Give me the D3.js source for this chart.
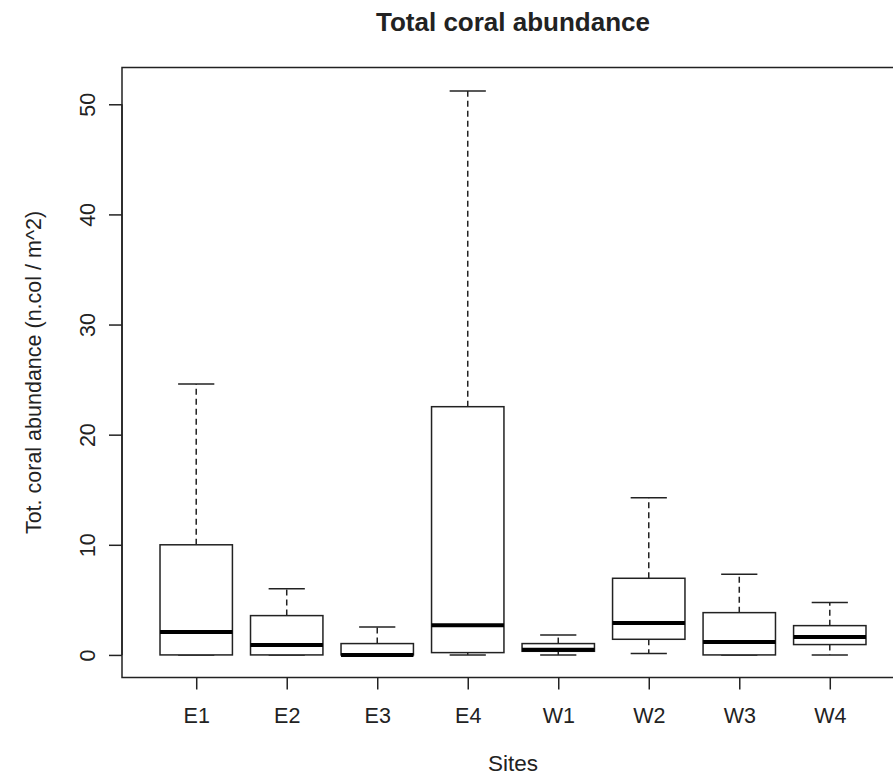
<!DOCTYPE html>
<html>
<head>
<meta charset="utf-8">
<script src="https://cdn.jsdelivr.net/npm/d3@7/dist/d3.min.js"></script>
<style>
  html, body { margin: 0; padding: 0; background: #fff; }
  svg text { font-family: Arial, "Liberation Sans", sans-serif; fill: #222; }
</style>
</head>
<body>
<svg id="chart" width="893" height="776"></svg>
<script>
// ---- data ----
const sites        = ["E1", "E2", "E3", "E4", "W1", "W2", "W3", "W4"];
const whiskerLow   = [0,    0,    0,    0,     0,    0.12, 0,    0];
const quartile1    = [0,    0,    0,    0.21,  0.33, 1.42, 0,    0.94];
const medians      = [2.09, 0.91, 0.0,  2.69,  0.48, 2.90, 1.18, 1.63];
const quartile3    = [10.0, 3.57, 1.03, 22.54, 1.03, 6.96, 3.84, 2.66];
const whiskerHigh  = [24.6, 6.02, 2.54, 51.2,  1.82, 14.28, 7.33, 4.75];
const yTicks       = [0, 10, 20, 30, 40, 50];
const titleText    = "Total coral abundance";
const xTitle       = "Sites";
const yTitle       = "Tot. coral abundance (n.col / m^2)";

const boxes = sites.map((s, i) => ({
  site: s, idx: i + 1,
  lo: whiskerLow[i], q1: quartile1[i], med: medians[i], q3: quartile3[i], hi: whiskerHigh[i]
}));

const svg = d3.select("#chart");
const plot = { left: 122, right: 904, top: 67.5, bottom: 677.5 };
const fontSize = 21.5;

const x = d3.scaleLinear().domain([0.18, 8.82]).range([plot.left, plot.right]);
const y = d3.scaleLinear().domain([-2.05, 53.34]).range([plot.bottom, plot.top]);

const boxW = (x(1.8) - x(1));   // 0.8 units
const capW = boxW / 2;
const stroke = "#222";

// frame
svg.append("rect")
  .attr("x", plot.left).attr("y", plot.top)
  .attr("width", plot.right - plot.left).attr("height", plot.bottom - plot.top)
  .attr("fill", "none").attr("stroke", stroke).attr("stroke-width", 1.5);

const g = svg.append("g");
const bx = g.selectAll("g.box").data(boxes).join("g").attr("class", "box");

// whiskers (dashed)
bx.append("line")
  .attr("x1", d => x(d.idx)).attr("x2", d => x(d.idx))
  .attr("y1", d => y(d.q3)).attr("y2", d => y(d.hi))
  .attr("stroke", stroke).attr("stroke-width", 1.5).attr("stroke-dasharray", "6,4");
bx.append("line")
  .attr("x1", d => x(d.idx)).attr("x2", d => x(d.idx))
  .attr("y1", d => y(d.q1)).attr("y2", d => y(d.lo))
  .attr("stroke", stroke).attr("stroke-width", 1.5).attr("stroke-dasharray", "6,4");
// staples
bx.append("line")
  .attr("x1", d => x(d.idx) - capW / 2).attr("x2", d => x(d.idx) + capW / 2)
  .attr("y1", d => y(d.hi)).attr("y2", d => y(d.hi))
  .attr("stroke", stroke).attr("stroke-width", 1.5);
bx.append("line")
  .attr("x1", d => x(d.idx) - capW / 2).attr("x2", d => x(d.idx) + capW / 2)
  .attr("y1", d => y(d.lo)).attr("y2", d => y(d.lo))
  .attr("stroke", stroke).attr("stroke-width", 1.5);
// box
bx.append("rect")
  .attr("x", d => x(d.idx) - boxW / 2).attr("width", boxW)
  .attr("y", d => y(d.q3)).attr("height", d => y(d.q1) - y(d.q3))
  .attr("fill", "#fff").attr("stroke", stroke).attr("stroke-width", 1.5);
// median
bx.append("line")
  .attr("x1", d => x(d.idx) - boxW / 2).attr("x2", d => x(d.idx) + boxW / 2)
  .attr("y1", d => y(d.med)).attr("y2", d => y(d.med))
  .attr("stroke", "#000").attr("stroke-width", 4);

// y axis
const yAxis = d3.axisLeft(y).tickValues(yTicks).tickSize(13).tickPadding(0).tickFormat(d3.format("d"));
const ya = svg.append("g").attr("transform", `translate(${plot.left},0)`).call(yAxis);
ya.select(".domain").attr("d", `M0,${y(0)}V${y(50)}`).attr("stroke", stroke).attr("stroke-width", 1.5);
ya.selectAll(".tick line").attr("stroke", stroke).attr("stroke-width", 1.5);
ya.selectAll(".tick text")
  .attr("x", null).attr("dy", null)
  .attr("transform", "translate(-27,0) rotate(-90)")
  .attr("text-anchor", "middle")
  .style("font-size", fontSize + "px").style("font-family", "Arial, 'Liberation Sans', sans-serif").attr("fill", "#222");

// x axis
const xAxis = d3.axisBottom(x).tickValues(boxes.map(d => d.idx)).tickSize(12).tickPadding(0)
  .tickFormat((d, i) => sites[i]);
const xa = svg.append("g").attr("transform", `translate(0,${plot.bottom})`).call(xAxis);
xa.select(".domain").remove();
xa.selectAll(".tick line").attr("stroke", stroke).attr("stroke-width", 1.5);
xa.selectAll(".tick text")
  .attr("y", 45).attr("dy", null)
  .style("font-size", fontSize + "px").style("font-family", "Arial, 'Liberation Sans', sans-serif").attr("fill", "#222");

// titles
const cx = (plot.left + plot.right) / 2;
svg.append("text").attr("x", cx).attr("y", 31).attr("text-anchor", "middle")
  .style("font-size", "26px").style("font-weight", "bold").text(titleText);
svg.append("text").attr("x", cx).attr("y", 771).attr("text-anchor", "middle")
  .style("font-size", "22.5px").text(xTitle);
svg.append("text")
  .attr("transform", `translate(41,${(plot.top + plot.bottom) / 2}) rotate(-90)`)
  .attr("text-anchor", "middle")
  .style("font-size", fontSize + "px").text(yTitle);
</script>
</body>
</html>
